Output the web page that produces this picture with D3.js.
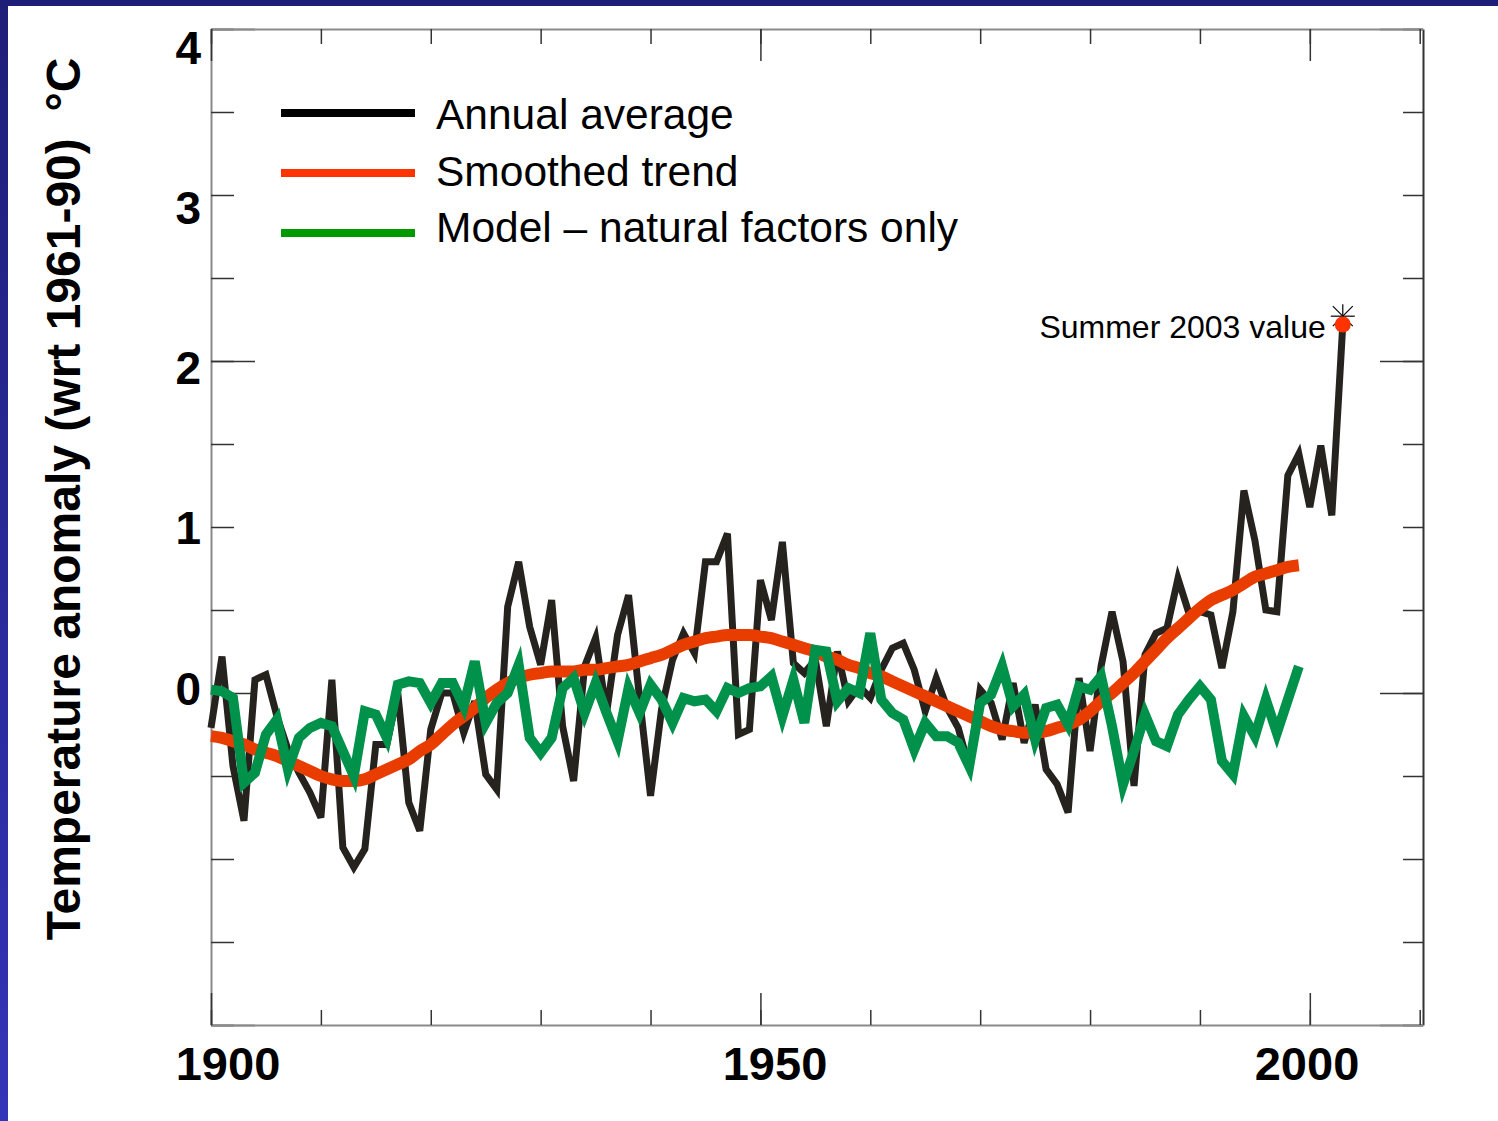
<!DOCTYPE html>
<html>
<head>
<meta charset="utf-8">
<script src="https://cdn.jsdelivr.net/npm/d3@7"></script>
<style>
body { margin: 0; background: #fff; }
text { font-family: "Liberation Sans", Arial, sans-serif; }
</style>
</head>
<body>
<script>
// data, one value per year from 1900
var startYear = 1900;

var annual = [
  -0.21, 0.22, -0.44, -0.77, 0.08, 0.11, -0.14, -0.34, -0.48, -0.60,
  -0.75, 0.08, -0.93, -1.05, -0.94, -0.31, -0.31, 0.00, -0.66, -0.83,
  -0.22, 0.00, 0.00, -0.24, -0.05, -0.49, -0.58, 0.52, 0.79, 0.40,
  0.17, 0.56, -0.20, -0.53, 0.16, 0.33, -0.12, 0.35, 0.59, -0.03,
  -0.62, -0.10, 0.20, 0.36, 0.24, 0.79, 0.79, 0.96, -0.25, -0.22,
  0.68, 0.44, 0.91, 0.18, 0.12, 0.20, -0.20, 0.25, -0.05, 0.04,
  -0.03, 0.14, 0.27, 0.30, 0.14, -0.11, 0.09, -0.09, -0.21, -0.45,
  0.02, -0.06, -0.28, 0.06, -0.30, -0.07, -0.46, -0.55, -0.72, 0.09,
  -0.35, 0.16, 0.49, 0.19, -0.56, 0.23, 0.36, 0.39, 0.69, 0.48,
  0.49, 0.47, 0.15, 0.49, 1.22, 0.92, 0.50, 0.49, 1.31, 1.44,
  1.12, 1.49, 1.07, 2.22
];

var smoothed = [
  -0.26, -0.27, -0.29, -0.31, -0.34, -0.36, -0.38, -0.41, -0.44, -0.47,
  -0.50, -0.52, -0.53, -0.53, -0.52, -0.49, -0.46, -0.43, -0.40, -0.35,
  -0.31, -0.25, -0.19, -0.14, -0.09, -0.03, 0.02, 0.06, 0.09, 0.11,
  0.12, 0.13, 0.13, 0.13, 0.14, 0.14, 0.15, 0.16, 0.17, 0.19,
  0.21, 0.23, 0.26, 0.29, 0.31, 0.33, 0.34, 0.35, 0.35, 0.35,
  0.34, 0.33, 0.31, 0.29, 0.27, 0.25, 0.22, 0.20, 0.17, 0.15,
  0.12, 0.10, 0.07, 0.04, 0.01, -0.02, -0.05, -0.08, -0.11, -0.14,
  -0.17, -0.20, -0.22, -0.23, -0.24, -0.24, -0.23, -0.21, -0.19, -0.16,
  -0.11, -0.05, 0.00, 0.06, 0.12, 0.19, 0.26, 0.33, 0.39, 0.45,
  0.51, 0.56, 0.59, 0.62, 0.66, 0.70, 0.72, 0.74, 0.76, 0.77
];

var model = [
  0.02, 0.01, -0.03, -0.54, -0.48, -0.25, -0.16, -0.46, -0.27, -0.21,
  -0.18, -0.20, -0.35, -0.50, -0.11, -0.13, -0.27, 0.05, 0.07, 0.06,
  -0.06, 0.06, 0.06, -0.08, 0.19, -0.18, -0.06, 0.00, 0.17, -0.27,
  -0.36, -0.27, 0.03, 0.09, -0.12, 0.06, -0.12, -0.29, 0.03, -0.12,
  0.05, -0.04, -0.18, -0.03, -0.05, -0.04, -0.11, 0.03, 0.00, 0.03,
  0.04, 0.10, -0.14, 0.08, -0.18, 0.26, 0.25, -0.05, 0.03, 0.00,
  0.36, -0.04, -0.12, -0.16, -0.34, -0.18, -0.26, -0.26, -0.30, -0.44,
  -0.06, -0.01, 0.16, -0.08, -0.01, -0.28, -0.09, -0.07, -0.19, 0.04,
  0.02, 0.10, -0.20, -0.55, -0.35, -0.13, -0.29, -0.32, -0.13, -0.04,
  0.04, -0.04, -0.41, -0.49, -0.14, -0.26, -0.04, -0.24, -0.04, 0.16
];

var yLabels = [0, 1, 2, 3, 4];
var xLabels = [1900, 1950, 2000];
var legendNames = ["Annual average", "Smoothed trend", "Model \u2013 natural factors only"];
var legendColors = ["#000000", "#ff3300", "#009900"];
var summerYear = 2003;
var summerValue = 2.22;

var width = 1498, height = 1121;

var svg = d3.select("body").append("svg")
  .attr("width", width)
  .attr("height", height);

// blue slide border
var defs = svg.append("defs");
var grad = defs.append("linearGradient").attr("id", "side")
  .attr("x1", 0).attr("y1", 0).attr("x2", 0).attr("y2", 1);
grad.append("stop").attr("offset", "0%").attr("stop-color", "#1e1e78");
grad.append("stop").attr("offset", "100%").attr("stop-color", "#3434b8");

svg.append("rect").attr("x", 0).attr("y", 0).attr("width", width).attr("height", height).attr("fill", "#fff");
svg.append("rect").attr("x", 0).attr("y", 0).attr("width", width).attr("height", 6).attr("fill", "#1e1e78");
svg.append("rect").attr("x", 0).attr("y", 0).attr("width", 8).attr("height", height).attr("fill", "url(#side)");

var x = d3.scaleLinear().domain([1900, 2010.3]).range([211, 1423]);
var y = d3.scaleLinear().domain([-2, 4]).range([1025, 29]);

// label positions in the original sit a little off the ticks
var yLabelPos = d3.scaleLinear().domain([0, 4]).range([688, 47]);
var xLabelPos = d3.scaleLinear().domain([1900, 1950, 2000]).range([228, 775, 1307]);

var minorY = d3.range(-2, 4.01, 0.5);
var majorY = [-2, 0, 2, 4];
var minorX = d3.range(1900, 2010.1, 10);
var majorX = [1900, 1950, 2000];

function styleAxis(g, domainColor) {
  g.select(".domain").attr("stroke", domainColor || "#8a8a8a").attr("stroke-width", 2);
  g.selectAll(".tick line").attr("stroke", "#333").attr("stroke-width", 1.5);
  g.selectAll(".tick text").remove();
}

// left
svg.append("g").attr("transform", "translate(211,0)")
  .call(d3.axisRight(y).tickValues(minorY).tickSize(23).tickSizeOuter(0))
  .call(styleAxis);
svg.append("g").attr("transform", "translate(211,0)")
  .call(d3.axisRight(y).tickValues(majorY).tickSize(44).tickSizeOuter(0))
  .call(function(g) { styleAxis(g); g.select(".domain").remove(); });
// right
svg.append("g").attr("transform", "translate(1423,0)")
  .call(d3.axisLeft(y).tickValues(minorY).tickSize(20).tickSizeOuter(0))
  .call(function(g) { styleAxis(g, "#333"); });
svg.append("g").attr("transform", "translate(1423,0)")
  .call(d3.axisLeft(y).tickValues(majorY).tickSize(43).tickSizeOuter(0))
  .call(function(g) { styleAxis(g); g.select(".domain").remove(); });
// top
svg.append("g").attr("transform", "translate(0,29)")
  .call(d3.axisBottom(x).tickValues(minorX).tickSize(15).tickSizeOuter(0))
  .call(styleAxis);
svg.append("g").attr("transform", "translate(0,29)")
  .call(d3.axisBottom(x).tickValues(majorX).tickSize(32).tickSizeOuter(0))
  .call(function(g) { styleAxis(g); g.select(".domain").remove(); });
// bottom
svg.append("g").attr("transform", "translate(0,1025)")
  .call(d3.axisTop(x).tickValues(minorX).tickSize(15).tickSizeOuter(0))
  .call(styleAxis);
svg.append("g").attr("transform", "translate(0,1025)")
  .call(d3.axisTop(x).tickValues(majorX).tickSize(32).tickSizeOuter(0))
  .call(function(g) { styleAxis(g); g.select(".domain").remove(); });

// tick labels
svg.selectAll(".ylab").data(yLabels).enter().append("text")
  .attr("class", "ylab")
  .attr("x", 201)
  .attr("y", function(d) { return yLabelPos(d); })
  .attr("dy", "0.36em")
  .attr("text-anchor", "end")
  .attr("font-size", 46)
  .attr("font-weight", "bold")
  .text(function(d) { return d; });

svg.selectAll(".xlab").data(xLabels).enter().append("text")
  .attr("class", "xlab")
  .attr("x", function(d) { return xLabelPos(d); })
  .attr("y", 1080)
  .attr("text-anchor", "middle")
  .attr("font-size", 47)
  .attr("font-weight", "bold")
  .text(function(d) { return d; });

svg.append("text")
  .attr("transform", "translate(80,499) rotate(-90)")
  .attr("text-anchor", "middle")
  .attr("font-size", 48)
  .attr("font-weight", "bold")
  .style("white-space", "pre")
  .text("Temperature anomaly (wrt 1961-90)  \u00b0C");

// series
function toPoints(arr) {
  return arr.map(function(v, i) { return { year: startYear + i, value: v }; });
}

var line = d3.line()
  .x(function(d) { return x(d.year); })
  .y(function(d) { return y(d.value); });

svg.append("path")
  .datum(toPoints(annual))
  .attr("fill", "none")
  .attr("stroke", "#26231f")
  .attr("stroke-width", 7)
  .attr("stroke-linejoin", "miter")
  .attr("d", line);

svg.append("path")
  .datum(toPoints(smoothed))
  .attr("fill", "none")
  .attr("stroke", "#e93d00")
  .attr("stroke-width", 12)
  .attr("stroke-linejoin", "round")
  .attr("d", line.curve(d3.curveMonotoneX));

line.curve(d3.curveLinear);

svg.append("path")
  .datum(toPoints(model))
  .attr("fill", "none")
  .attr("stroke", "#00914a")
  .attr("stroke-width", 10)
  .attr("stroke-linejoin", "miter")
  .attr("d", line);

// summer 2003 marker
var sx = x(summerYear), sy = y(summerValue);
var ay = y(summerValue + 0.05);
[[-12, 0, 12, 0], [0, -12, 0, 12], [-10, -10, 10, 10], [-10, 10, 10, -10]].forEach(function(s) {
  svg.append("line")
    .attr("x1", sx + s[0]).attr("y1", ay + s[1])
    .attr("x2", sx + s[2]).attr("y2", ay + s[3])
    .attr("stroke", "#000").attr("stroke-width", 1.2);
});
svg.append("circle")
  .attr("cx", sx).attr("cy", sy).attr("r", 8)
  .attr("fill", "#ff3300");
svg.append("text")
  .attr("x", sx - 17)
  .attr("y", sy + 14)
  .attr("text-anchor", "end")
  .attr("font-size", 32)
  .text("Summer " + summerYear + " value");

// legend
var leg = svg.selectAll(".leg").data(legendNames).enter().append("g")
  .attr("class", "leg");
leg.append("line")
  .attr("x1", 281).attr("x2", 415)
  .attr("y1", function(d, i) { return 113 + i * 60; })
  .attr("y2", function(d, i) { return 113 + i * 60; })
  .attr("stroke", function(d, i) { return legendColors[i]; })
  .attr("stroke-width", 8);
leg.append("text")
  .attr("x", 436)
  .attr("y", function(d, i) { return 129 + i * 56.5; })
  .attr("font-size", 42.5)
  .text(function(d) { return d; });
</script>
</body>
</html>
